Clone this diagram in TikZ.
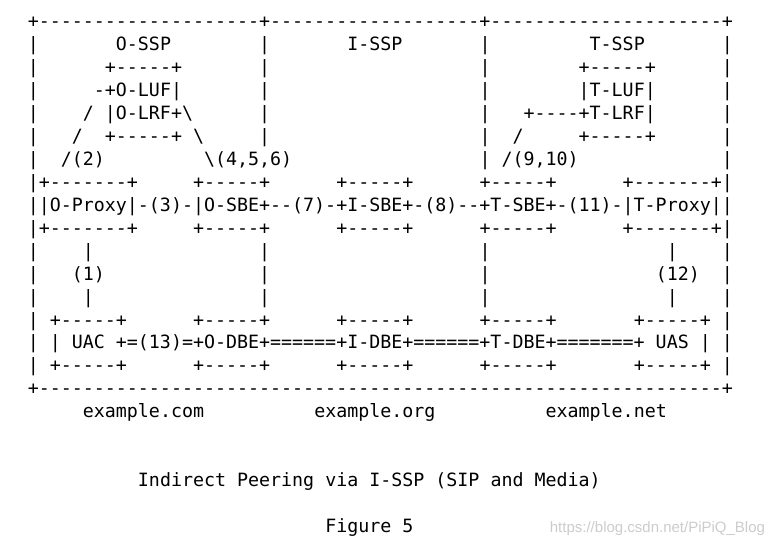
\documentclass[tikz,border=0pt]{standalone}
\usepackage{fontspec}
\setmonofont{DejaVu Sans Mono}
\newfontfamily\wmfont{Liberation Sans}
\ExplSyntaxOn
\NewDocumentCommand\Rep{mm}{\prg_replicate:nn{#1}{#2}}
\ExplSyntaxOff
\newcommand\Sp[1]{\Rep{#1}{~}}
\newcommand\Dh[1]{\Rep{#1}{-}}
\newcommand\Eq[1]{\Rep{#1}{=}}
\newcommand\bs{\textbackslash}
\tikzset{
  row/.style={anchor=base west,inner sep=0pt,outer sep=0pt,
    font=\ttfamily\fontsize{18.3}{18.3}\selectfont,text=black},
  wmark/.style={anchor=base east,inner sep=0pt,outer sep=0pt,
    font=\wmfont\fontsize{15}{15}\selectfont,text=black!20}
}
\begin{document}
\begin{tikzpicture}[x=1pt,y=-1pt]
\useasboundingbox (0,0) rectangle (773,548);
\fill[white] (0,0) rectangle (773,548);
\node[row] (r0)  at (27.8,27.65)  {+\Dh{20}+\Dh{19}+\Dh{21}+};
\node[row] (r1)  at (27.8,50.60)  {|\Sp{7}O-SSP\Sp{8}|\Sp{7}I-SSP\Sp{7}|\Sp{9}T-SSP\Sp{7}|};
\node[row] (r2)  at (27.8,73.55)  {|\Sp{6}+\Dh{5}+\Sp{7}|\Sp{19}|\Sp{8}+\Dh{5}+\Sp{6}|};
\node[row] (r3)  at (27.8,96.50)  {|\Sp{5}-+O-LUF|\Sp{7}|\Sp{19}|\Sp{8}|T-LUF|\Sp{6}|};
\node[row] (r4)  at (27.8,119.45) {|\Sp{4}/\Sp{1}|O-LRF+\bs\Sp{6}|\Sp{19}|\Sp{3}+\Dh{4}+T-LRF|\Sp{6}|};
\node[row] (r5)  at (27.8,142.40) {|\Sp{3}/\Sp{2}+\Dh{5}+\Sp{1}\bs\Sp{5}|\Sp{19}|\Sp{2}/\Sp{5}+\Dh{5}+\Sp{6}|};
\node[row] (r6)  at (27.8,165.35) {|\Sp{2}/(2)\Sp{9}\bs(4,5,6)\Sp{17}|\Sp{1}/(9,10)\Sp{13}|};
\node[row] (r7)  at (27.8,188.30) {|+\Dh{7}+\Sp{5}+\Dh{5}+\Sp{6}+\Dh{5}+\Sp{6}+\Dh{5}+\Sp{6}+\Dh{7}+|};
\node[row] (r8)  at (27.8,211.25) {||O-Proxy|-(3)-|O-SBE+-{}-(7)-+I-SBE+-(8)-{}-+T-SBE+-(11)-|T-Proxy||};
\node[row] (r9)  at (27.8,234.20) {|+\Dh{7}+\Sp{5}+\Dh{5}+\Sp{6}+\Dh{5}+\Sp{6}+\Dh{5}+\Sp{6}+\Dh{7}+|};
\node[row] (r10) at (27.8,257.15) {|\Sp{4}|\Sp{15}|\Sp{19}|\Sp{16}|\Sp{4}|};
\node[row] (r11) at (27.8,280.10) {|\Sp{3}(1)\Sp{14}|\Sp{19}|\Sp{15}(12)\Sp{2}|};
\node[row] (r12) at (27.8,303.05) {|\Sp{4}|\Sp{15}|\Sp{19}|\Sp{16}|\Sp{4}|};
\node[row] (r13) at (27.8,326.00) {|\Sp{1}+\Dh{5}+\Sp{6}+\Dh{5}+\Sp{6}+\Dh{5}+\Sp{6}+\Dh{5}+\Sp{7}+\Dh{5}+\Sp{1}|};
\node[row] (r14) at (27.8,348.95) {|\Sp{1}|\Sp{1}UAC\Sp{1}+=(13)=+O-DBE+\Eq{6}+I-DBE+\Eq{6}+T-DBE+\Eq{7}+\Sp{1}UAS\Sp{1}|\Sp{1}|};
\node[row] (r15) at (27.8,371.90) {|\Sp{1}+\Dh{5}+\Sp{6}+\Dh{5}+\Sp{6}+\Dh{5}+\Sp{6}+\Dh{5}+\Sp{7}+\Dh{5}+\Sp{1}|};
\node[row] (r16) at (27.8,394.85) {+\Dh{62}+};
\node[row] (r17) at (27.8,417.80) {\Sp{5}example.com\Sp{10}example.org\Sp{10}example.net};
\node[row] (r20) at (27.8,486.65) {\Sp{10}Indirect Peering via I-SSP (SIP and Media)};
\node[row] (r22) at (27.8,532.55) {\Sp{27}Figure 5};
\node[wmark] (wm) at (765,532) {https://blog.csdn.net/PiPiQ\_Blog};
\end{tikzpicture}
\end{document}
